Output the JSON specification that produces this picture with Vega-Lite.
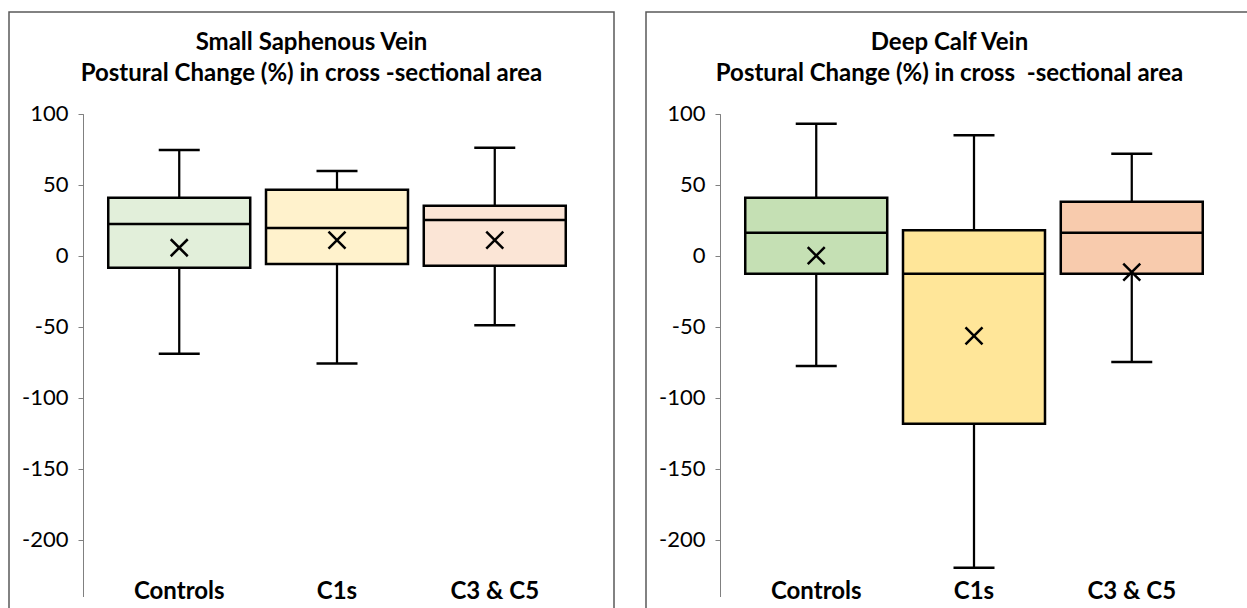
{
  "$schema": "https://vega.github.io/schema/vega-lite/v6.json",
  "background": "white",
  "padding": {"left": 8, "top": 11, "right": 0, "bottom": 0},
  "spacing": 30,
  "datasets": {
    "ssv": [
      {"group": "Controls", "min": -69, "q1": -8.5, "median": 22.3, "q3": 40.8, "max": 74.4, "mean": 5.6},
      {"group": "C1s", "min": -76, "q1": -5.9, "median": 19.5, "q3": 46.4, "max": 59.6, "mean": 11},
      {"group": "C3 & C5", "min": -49, "q1": -7, "median": 25.2, "q3": 35.1, "max": 76, "mean": 11}
    ],
    "dcv": [
      {"group": "Controls", "min": -77.7, "q1": -12.7, "median": 16.2, "q3": 40.8, "max": 93, "mean": 0},
      {"group": "C1s", "min": -219.7, "q1": -118.3, "median": -12.7, "q3": 17.9, "max": 84.8, "mean": -56.5},
      {"group": "C3 & C5", "min": -74.9, "q1": -12.7, "median": 16.2, "q3": 38, "max": 71.8, "mean": -11.5}
    ]
  },
  "hconcat": [
    {
      "width": 605,
      "height": 600,
      "data": {"name": "ssv"},
      "title": {"text": ["Small Saphenous Vein", "Postural Change (%) in cross -sectional area"]},
      "encoding": {
        "x": {
          "field": "group", "type": "nominal", "sort": ["Controls", "C1s", "C3 & C5"],
          "scale": {"range": [74, 582], "paddingInner": 0.1, "paddingOuter": 0.16},
          "axis": {"title": null, "orient": "bottom", "domain": false, "ticks": false, "labelPadding": 0, "offset": -33, "labelFont": "Lato", "labelFontWeight": "bold", "labelFontSize": 24, "labelColor": "black", "labelAngle": 0}
        }
      },
      "layer": [
        {
          "mark": {"type": "rule", "strokeWidth": 2.25, "color": "black"},
          "encoding": {
            "y": {"field": "min", "type": "quantitative",
              "scale": {"domain": [-240, 100], "range": [584.5, 101.7], "nice": false, "zero": false},
              "axis": {"title": null, "orient": "left", "offset": -74, "values": [-200, -150, -100, -50, 0, 50, 100], "labelExpr": "'' + datum.value", "grid": false, "domainColor": "#808080", "domainWidth": 1, "tickColor": "#808080", "tickSize": 5, "labelPadding": 10, "labelFont": "Lato", "labelFontSize": 22, "labelColor": "black"}},
            "y2": {"field": "max"}
          }
        },
        {
          "mark": {"type": "bar", "stroke": "black", "strokeWidth": 2.5},
          "encoding": {
            "y": {"field": "q1", "type": "quantitative"},
            "y2": {"field": "q3"},
            "fill": {"field": "group", "type": "nominal", "legend": null,
              "scale": {"domain": ["Controls", "C1s", "C3 & C5"], "range": ["#E2EFDA", "#FFF2CC", "#FBE5D6"]}}
          }
        },
        {
          "mark": {"type": "tick", "size": 142, "thickness": 2.5, "color": "black", "opacity": 1},
          "encoding": {"y": {"field": "median", "type": "quantitative"}}
        },
        {
          "mark": {"type": "tick", "size": 41, "thickness": 2.5, "color": "black", "opacity": 1},
          "encoding": {"y": {"field": "min", "type": "quantitative"}}
        },
        {
          "mark": {"type": "tick", "size": 41, "thickness": 2.5, "color": "black", "opacity": 1},
          "encoding": {"y": {"field": "max", "type": "quantitative"}}
        },
        {
          "mark": {"type": "point", "shape": "M-1,-1L1,1M-1,1L1,-1", "size": 289, "filled": false, "stroke": "black", "strokeWidth": 2.5, "opacity": 1},
          "encoding": {"y": {"field": "mean", "type": "quantitative"}}
        }
      ]
    },
    {
      "width": 607,
      "height": 600,
      "data": {"name": "dcv"},
      "title": {"text": ["Deep Calf Vein", "Postural Change (%) in cross\u00a0\u00a0-sectional area"]},
      "encoding": {
        "x": {
          "field": "group", "type": "nominal", "sort": ["Controls", "C1s", "C3 & C5"],
          "scale": {"range": [74, 582], "paddingInner": 0.1, "paddingOuter": 0.16},
          "axis": {"title": null, "orient": "bottom", "domain": false, "ticks": false, "labelPadding": 0, "offset": -33, "labelFont": "Lato", "labelFontWeight": "bold", "labelFontSize": 24, "labelColor": "black", "labelAngle": 0}
        }
      },
      "layer": [
        {
          "mark": {"type": "rule", "strokeWidth": 2.25, "color": "black"},
          "encoding": {
            "y": {"field": "min", "type": "quantitative",
              "scale": {"domain": [-240, 100], "range": [584.5, 101.7], "nice": false, "zero": false},
              "axis": {"title": null, "orient": "left", "offset": -74, "values": [-200, -150, -100, -50, 0, 50, 100], "labelExpr": "'' + datum.value", "grid": false, "domainColor": "#808080", "domainWidth": 1, "tickColor": "#808080", "tickSize": 5, "labelPadding": 10, "labelFont": "Lato", "labelFontSize": 22, "labelColor": "black"}},
            "y2": {"field": "max"}
          }
        },
        {
          "mark": {"type": "bar", "stroke": "black", "strokeWidth": 2.5},
          "encoding": {
            "y": {"field": "q1", "type": "quantitative"},
            "y2": {"field": "q3"},
            "fill": {"field": "group", "type": "nominal", "legend": null,
              "scale": {"domain": ["Controls", "C1s", "C3 & C5"], "range": ["#C5E0B4", "#FFE699", "#F8CBAD"]}}
          }
        },
        {
          "mark": {"type": "tick", "size": 142, "thickness": 2.5, "color": "black", "opacity": 1},
          "encoding": {"y": {"field": "median", "type": "quantitative"}}
        },
        {
          "mark": {"type": "tick", "size": 41, "thickness": 2.5, "color": "black", "opacity": 1},
          "encoding": {"y": {"field": "min", "type": "quantitative"}}
        },
        {
          "mark": {"type": "tick", "size": 41, "thickness": 2.5, "color": "black", "opacity": 1},
          "encoding": {"y": {"field": "max", "type": "quantitative"}}
        },
        {
          "mark": {"type": "point", "shape": "M-1,-1L1,1M-1,1L1,-1", "size": 289, "filled": false, "stroke": "black", "strokeWidth": 2.5, "opacity": 1},
          "encoding": {"y": {"field": "mean", "type": "quantitative"}}
        }
      ]
    }
  ],
  "resolve": {"scale": {"x": "independent", "y": "independent", "fill": "independent"}},
  "config": {
    "view": {"stroke": "#595959", "strokeWidth": 1.5},
    "font": "Lato",
    "title": {"font": "Lato", "fontSize": 24, "fontWeight": "bold", "color": "black", "anchor": "middle", "frame": "group", "offset": -74, "lineHeight": 31},
    "axis": {"grid": false}
  }
}
